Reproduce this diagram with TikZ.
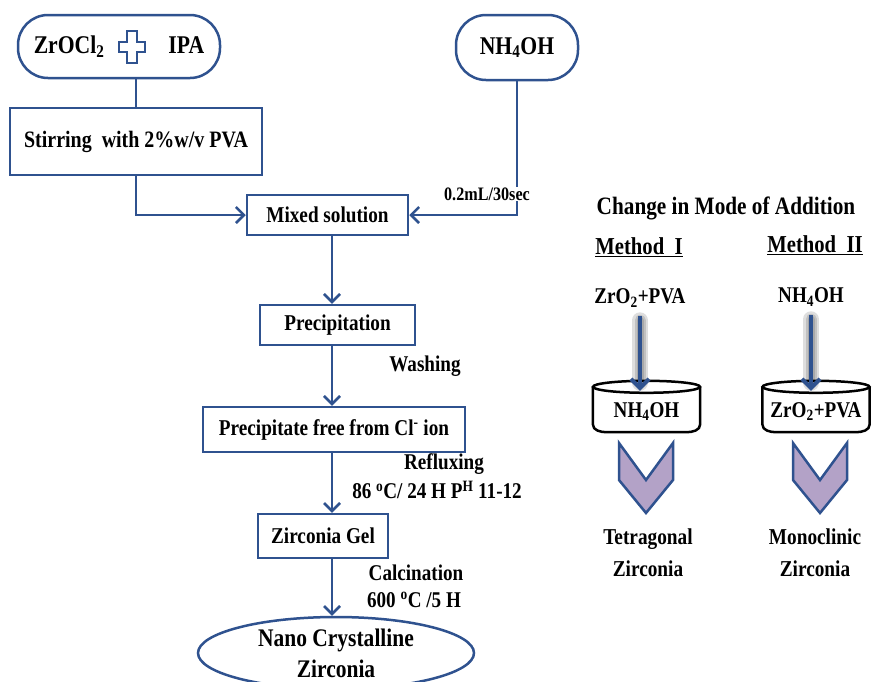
\documentclass[tikz,border=0pt]{standalone}
\usepackage{fontspec}
\setmainfont{Liberation Serif}[FakeStretch=0.85]
\usetikzlibrary{arrows.meta,shapes.geometric,calc}
\definecolor{flowblue}{RGB}{47,82,143}
\definecolor{chevfill}{RGB}{179,162,199}
\tikzset{
  procbox/.style={
    draw=flowblue,
    line width=2.5pt,
    fill=white,
    shape=rectangle,
    inner sep=0pt,
    font=\fontsize{22.6}{26}\bfseries\selectfont
  },
  startbox/.style={
    procbox,
    rounded corners=30pt,
    font=\fontsize{25.5}{30}\bfseries\selectfont
  },
  lbl/.style={
    inner sep=1pt,
    font=\fontsize{22.5}{31}\bfseries\selectfont
  },
  vessel/.style={
    lbl,
    inner sep=0pt,
    minimum width=107pt,
    minimum height=45pt
  },
  plain/.style={
    draw=flowblue,
    line width=2.5pt
  },
  flow/.style={
    plain,
    -{Straight Barb[length=8pt,width=16pt]}
  },
  bigflow/.style={
    draw=flowblue,
    line width=4pt,
    -{Straight Barb[length=9pt,width=18pt]}
  },
  shadowline/.style={
    draw=black,
    opacity=0.13,
    line width=#1,
    line cap=round
  },
  beakerline/.style={
    draw=black,
    line width=2.5pt,
    fill=white
  },
  chev/.style={
    draw=flowblue,
    line width=2.5pt,
    fill=chevfill,
    line join=miter
  }
}

\begin{document}
\begin{tikzpicture}[x=1pt,y=-1pt]
  \useasboundingbox (0,0) rectangle (877,681);
  % main flow
  \node[startbox,minimum width=202pt,minimum height=63pt] (zr) at (119,46.5) {ZrOCl\textsubscript{2}\hspace{64pt}IPA};
  \node[startbox,minimum width=122pt,minimum height=65pt] (nh) at (517,47.5) {NH\textsubscript{4}OH};
  \node[procbox,minimum width=252pt,minimum height=67pt,font=\fontsize{23.5}{26}\bfseries\selectfont] (stir) at (136,141.5) {Stirring\ \ with 2\%w/v PVA};
  \node[procbox,minimum width=161pt,minimum height=40pt] (mix) at (327.5,215) {Mixed solution};
  \node[procbox,minimum width=155pt,minimum height=40pt] (prec) at (337.5,325) {Precipitation};
  \node[procbox,minimum width=262pt,minimum height=45pt] (free) at (334,429.5) {Precipitate free from Cl\textsuperscript{-} ion};
  \node[procbox,minimum width=130pt,minimum height=44pt] (gel) at (323,536) {Zirconia Gel};
  \node[procbox,ellipse,minimum width=276pt,minimum height=72pt,align=center,
        font=\fontsize{25.3}{31}\bfseries\selectfont] (nano) at (336,653) {Nano Crystalline\\Zirconia};
  \coordinate (plus) at (132,47);
  \draw[plain,fill=white] (plus) ++(-5,-16) -- ++(10,0) -- ++(0,11) -- ++(8,0) -- ++(0,10) -- ++(-8,0)
      -- ++(0,11) -- ++(-10,0) -- ++(0,-11) -- ++(-8,0) -- ++(0,-10) -- ++(8,0) -- cycle;
  \coordinate (spine) at (332,0);
  \draw[plain] (stir.north) -- (stir.north |- zr.south);
  \draw[flow] (stir.south) |- (mix.west);
  \draw[flow] (nh.south) |- (mix.east);
  \node[lbl,fill=white,font=\fontsize{19}{22}\bfseries\selectfont] (rate) at (487,194) {0.2mL/30sec};
  \draw[flow] (mix.south -| spine) -- (prec.north -| spine);
  \draw[flow] (prec.south -| spine) -- (free.north -| spine);
  \draw[flow] (free.south -| spine) -- (gel.north -| spine);
  \draw[flow] (gel.south -| spine) -- (nano.north -| spine);
  \node[lbl] (wash) at (425,366) {Washing};
  \node[lbl] (reflux) at (444,464) {Refluxing};
  \node[lbl] (cond1) at (437,490) {86 \textsuperscript{o}C/ 24 H P\textsuperscript{H} 11-12};
  \node[lbl] (calc) at (416,573) {Calcination};
  \node[lbl] (cond2) at (414,600) {600 \textsuperscript{o}C /5 H};
  % mode of addition
  \node[lbl,font=\fontsize{25}{30}\bfseries\selectfont] (mode) at (726,208) {Change in Mode of Addition};
  \node[lbl,font=\fontsize{24.3}{30}\bfseries\selectfont] (meth1) at (639,247) {\underline{Method\ \ I}};
  \node[lbl,font=\fontsize{24.3}{30}\bfseries\selectfont] (meth2) at (815,245) {\underline{Method\ \ II}};
  \node[lbl] (add1) at (640,298) {ZrO\textsubscript{2}+PVA};
  \node[lbl] (add2) at (811,297) {NH\textsubscript{4}OH};
  \node[vessel] (b1) at (646.5,409.5) {};
  \node[vessel] (b2) at (816,409.5) {};
  \foreach \b in {b1,b2}{
      \draw[beakerline] (\b.north west) -- ([yshift=8pt]\b.south west) to[out=-90,in=180] ([xshift=14pt]\b.south west)
          -- ([xshift=-14pt]\b.south east) to[out=0,in=-90] ([yshift=8pt]\b.south east) -- (\b.north east);
      \draw[beakerline] (\b.north) ellipse [x radius=53.5, y radius=6];
    }
  \node[lbl] (in1) at ([yshift=-2pt]b1) {NH\textsubscript{4}OH};
  \node[lbl] (in2) at ([yshift=-2pt]b2) {ZrO\textsubscript{2}+PVA};
  \foreach \w in {16,11,7}{
      \draw[shadowline=\w pt,shorten <=12pt,shorten >=4pt] (add1.south) -- (add1.south |- b1.north);
      \draw[shadowline=\w pt,shorten <=12pt,shorten >=4pt] (add2.south) -- (add2.south |- b2.north);
    }
  \draw[bigflow,shorten <=8pt,shorten >=-4pt] (add1.south) -- (add1.south |- b1.north);
  \draw[bigflow,shorten <=8pt,shorten >=-4pt] (add2.south) -- (add2.south |- b2.north);
  \foreach \c/\x in {ch1/646,ch2/820}{
      \coordinate (\c) at (\x,443);
      \draw[chev] (\c) ++(-27,0) -- ++(27,37) -- ++(27,-37) -- ++(0,37) -- ++(-27,33) -- ++(-27,-33) -- cycle;
    }
  \node[lbl,align=center,font=\fontsize{22.7}{32}\bfseries\selectfont] (res1) at (648,553) {Tetragonal\\Zirconia};
  \node[lbl,align=center,font=\fontsize{22.7}{32}\bfseries\selectfont] (res2) at (815,553) {Monoclinic\\Zirconia};
\end{tikzpicture}
\end{document}
